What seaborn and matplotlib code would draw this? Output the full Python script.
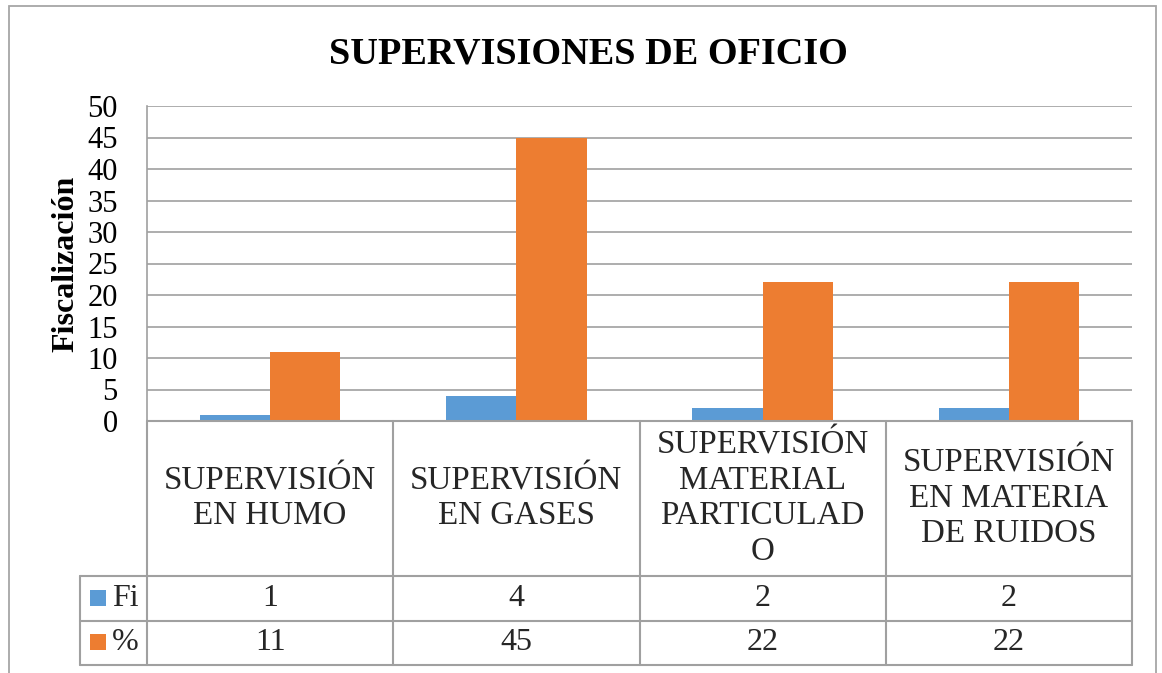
import numpy as np
import pandas as pd
import matplotlib
matplotlib.use("Agg")
import matplotlib.pyplot as plt
import matplotlib.transforms as mtransforms
from matplotlib.patches import Rectangle
from matplotlib.lines import Line2D
import seaborn as sns

# data
categories = ["SUPERVISIÓN\nEN HUMO", "SUPERVISIÓN\nEN GASES",
              "SUPERVISIÓN\nMATERIAL\nPARTICULAD\nO", "SUPERVISIÓN\nEN MATERIA\nDE RUIDOS"]
fi_values = [1, 4, 2, 2]
pct_values = [11, 45, 22, 22]
series_names = ["Fi", "%"]
series_colors = ["#5B9BD5", "#ED7D31"]
y_ticks = list(range(0, 51, 5))

df = pd.DataFrame({
    "categoria": categories * 2,
    "serie": [series_names[0]] * len(categories) + [series_names[1]] * len(categories),
    "valor": fi_values + pct_values,
})

sns.set_theme(style="white")
plt.rcParams["font.family"] = ["Liberation Serif", "DejaVu Serif"]

W, H = 1162, 673
grid_col = "#A0A0A0"
fig = plt.figure(figsize=(W / 100, H / 100), dpi=100)
fig.patch.set_facecolor("white")

# plot area in pixels: x 147..1132, y 106..421
ax = fig.add_axes([147 / W, 1 - 421 / H, (1132 - 147) / W, (421 - 106) / H])
sns.barplot(data=df, x="categoria", y="valor", hue="serie", order=categories,
            hue_order=series_names, palette=series_colors, saturation=1,
            width=0.57, errorbar=None, legend=False, linewidth=0, ax=ax)

ax.set_xlim(-0.5, len(categories) - 0.5)
ax.set_ylim(0, 50)
ax.set_yticks(y_ticks)
ax.set_xticks([])
ax.set_xlabel("")
ax.yaxis.grid(True, color=grid_col, lw=1.2)
ax.set_axisbelow(True)
for s in ["top", "right", "bottom"]:
    ax.spines[s].set_visible(False)
ax.spines["left"].set_color(grid_col)
ax.spines["left"].set_linewidth(1.2)
ax.tick_params(axis="y", length=0, pad=21, labelsize=22, labelcolor="black")
ax.set_ylabel("Fiscalización", fontsize=23, fontweight="bold", labelpad=5, color="black")

fig.text(588 / W, 1 - 63 / H, "SUPERVISIONES DE OFICIO", ha="center", va="baseline",
         fontsize=27.5, fontweight="bold", color="black")

# data table under the axis
trans = mtransforms.blended_transform_factory(ax.transData, fig.transFigure)
def yf(px):
    return 1 - px / H

n = len(categories)
cat_w_px = (1132 - 147) / n
x_left = -0.5 - (147 - 80) / cat_w_px
x_right = n - 0.5
rows = [421, 576, 621, 665]

def hline(x0, x1, ypx):
    fig.add_artist(Line2D([x0, x1], [yf(ypx), yf(ypx)], transform=trans,
                          color=grid_col, lw=1.5))

def vline(x, y0, y1):
    fig.add_artist(Line2D([x, x], [yf(y0), yf(y1)], transform=trans,
                          color=grid_col, lw=1.5))

hline(-0.5, x_right, rows[0])
for r in rows[1:]:
    hline(x_left, x_right, r)
for i in range(n + 1):
    vline(i - 0.5, rows[0], rows[3])
vline(x_left, rows[1], rows[3])

for i, cat in enumerate(categories):
    fig.text(i, yf((rows[0] + rows[1]) / 2), cat, transform=trans, ha="center",
             va="center", multialignment="center", fontsize=23.8, linespacing=1.2)
    fig.text(i, yf((rows[1] + rows[2]) / 2), str(fi_values[i]), transform=trans,
             ha="center", va="center", fontsize=23)
    fig.text(i, yf((rows[2] + rows[3]) / 2), str(pct_values[i]), transform=trans,
             ha="center", va="center", fontsize=23)

# legend keys inside the table
for k, (name, col) in enumerate(zip(series_names, series_colors)):
    ytop = (rows[1] + 14) if k == 0 else (rows[2] + 13)
    fig.add_artist(Rectangle((90 / W, yf(ytop + 16)), 16 / W, 16 / H,
                             transform=fig.transFigure, facecolor=col, edgecolor="none"))
    fig.text(112 / W, yf((rows[k + 1] + rows[k + 2]) / 2), name, ha="left",
             va="center", fontsize=23)

# outer chart border
fig.add_artist(Rectangle((9 / W, -0.05), (1156 - 9) / W, 1 - 6 / H + 0.05,
                         transform=fig.transFigure, fill=False,
                         edgecolor="#A6A6A6", lw=1.3))

fig.savefig("out.png", dpi=100)
